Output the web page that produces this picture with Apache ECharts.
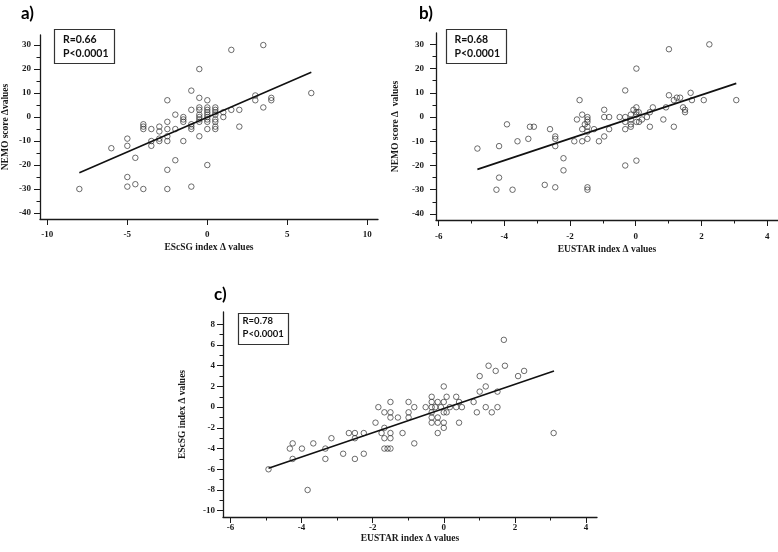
<!DOCTYPE html>
<html>
<head>
<meta charset="utf-8">
<script src="https://cdn.jsdelivr.net/npm/echarts@6/dist/echarts.min.js"></script>
<style>html,body{margin:0;padding:0;background:#fff}#c{width:778px;height:552px}</style>
</head>
<body>
<div id="c"></div>
<script>
// ---------- Panel a: EScSG index Δ (x) vs NEMO score Δ (y) ----------
const aX = [-8,-6,-5,-5,-5,-5,-4.5,-4.5,-4,-4,-4,-4,-3.5,-3.5,-3.5,-3,-3,-3,-3,
  -2.5,-2.5,-2.5,-2.5,-2.5,-2.5,-2.5,-2,-2,-2,-1.5,-1.5,-1.5,-1.5,
  -1,-1,-1,-1,-1,-1,-0.5,-0.5,-0.5,-0.5,-0.5,-0.5,-0.5,-0.5,-0.5,
  0,0,0,0,0,0,0,0,0,0,0.5,0.5,0.5,0.5,0.5,0.5,0.5,0.5,
  1,1,1.5,1.5,2,2,3,3,3.5,3.5,4,4,6.5];
const aY = [-30,-13,-9,-12,-25,-29,-17,-28,-3,-4,-5,-30,-5,-10,-12,-4,-6,-9,-10,
  7,-2,-5,-8,-10,-22,-30,1,-5,-18,0,-1,-2,-10,
  11,3,-3,-4,-5,-29,20,8,4,3,1,0,-1,-2,-8,
  7,4,3,2,1,0,-1,-2,-5,-20,4,3,2,1,-1,-2,-4,-5,
  2,0,28,3,3,-4,9,7,30,4,8,7,10];
const aFitX = [-8, 6.5];
const aFitY = [-23.2, 18.7];

// ---------- Panel b: EUSTAR index Δ (x) vs NEMO score Δ (y) ----------
const bX = [-4.82,-4.24,-4.16,-4.16,-3.92,-3.75,-3.6,-3.27,-3.22,-3.1,-2.77,-2.61,
  -2.45,-2.45,-2.45,-2.45,-2.2,-2.2,-1.87,-1.79,-1.71,-1.63,-1.63,-1.63,-1.55,
  -1.47,-1.47,-1.47,-1.47,-1.47,-1.47,-1.47,-1.47,-1.27,-1.12,-0.96,-0.96,-0.96,
  -0.81,-0.81,-0.49,-0.32,-0.32,-0.32,-0.32,-0.32,-0.15,-0.15,-0.15,-0.15,-0.07,
  0.02,0.02,0.02,0.02,0.02,0.02,0.09,0.1,0.19,0.34,0.43,0.43,0.52,0.84,0.92,
  1.01,1.01,1.16,1.16,1.25,1.35,1.44,1.5,1.5,1.67,1.71,2.07,2.24,3.06];
const bY = [-13,-30,-12,-25,-3,-30,-10,-9,-4,-4,-28,-5,
  -8,-9,-12,-29,-17,-22,-10,-1,7,1,-5,-10,-3,
  0,-1,-2,-4,-6,-9,-29,-30,-5,-10,3,0,-8,
  0,-5,0,11,0,-2,-5,-20,1,-1,-3,-4,3,
  20,4,2,1,-2,-18,2,-2,-1,0,2,-4,4,-1,4,
  28,9,7,-4,8,8,4,3,2,10,7,7,30,7];
const bFitX = [-4.82, 3.06];
const bFitY = [-21.6, 13.9];

// ---------- Panel c: EUSTAR index Δ (x) vs EScSG index Δ (y) ----------
const cX = [-4.93,-4.33,-4.25,-4.25,-3.99,-3.83,-3.67,-3.33,-3.33,-3.16,-2.83,-2.67,
  -2.5,-2.5,-2.5,-2.25,-2.25,-1.92,-1.84,-1.75,-1.67,-1.67,-1.67,-1.67,-1.58,
  -1.5,-1.5,-1.5,-1.5,-1.5,-1.5,-1.29,-1.16,-0.99,-0.99,-0.99,-0.83,-0.83,-0.51,
  -0.34,-0.34,-0.34,-0.34,-0.34,-0.34,-0.24,-0.17,-0.17,-0.17,-0.17,-0.08,
  0,0,0,0,0,0.08,0.08,0.17,0.35,0.35,0.43,0.43,0.51,0.84,0.93,
  1.01,1.01,1.18,1.18,1.26,1.35,1.46,1.51,1.51,1.69,1.72,2.09,2.26,3.09];
const cY = [-6,-4,-3.5,-5,-4,-8,-3.5,-4,-5,-3,-4.5,-2.5,
  -2.5,-3,-5,-2.5,-4.5,-1.5,0,-2.5,-0.5,-2,-3,-4,-4,
  0.5,-0.5,-1,-2.5,-3,-4,-1,-2.5,0.5,-0.5,-1,0,-3.5,0,
  1,0.5,0,-0.5,-1,-1.5,0,0.5,-1,-1.5,-2.5,0,
  2,0.5,-0.5,-1.5,-2,1,-0.5,0,1,0,0.5,-1.5,0,0.5,-0.5,
  3,1.5,2,0,4,-0.5,3.5,1.5,0,6.5,4,3,3.5,-2.5];
const cFitX = [-4.93, 3.1];
const cFitY = [-5.9, 3.5];

// ---------- tick values ----------
const aXTicks = [-10,-5,0,5,10];
const aYTicks = [-40,-30,-20,-10,0,10,20,30];
const aYMinor = [-35,-25,-15,-5,5,15,25];
const bXTicks = [-6,-4,-2,0,2,4];
const bXMinor = [-5,-3,-1,1,3];
const bYTicks = [-40,-30,-20,-10,0,10,20,30];
const bYMinor = [-35,-25,-15,-5,5,15,25];
const cXTicks = [-6,-4,-2,0,2,4];
const cXMinor = [-5,-3,-1,1,3];
const cYTicks = [-10,-8,-6,-4,-2,0,2,4,6,8];
const cYMinor = [-9,-7,-5,-3,-1,1,3,5,7];

const zip = (xs, ys) => xs.map((x, i) => [x, ys[i]]);

const INK = '#1a1a1a';
const labelFont = {fontFamily: 'Liberation Serif', fontWeight: 'bold', fontSize: 9, color: INK};

const panels = [
  {grid: {left: 40, top: 35, width: 338, height: 184},
   xr: [-10.46, 10.67], yr: [-42.5, 34.2],
   xt: aXTicks, xm: [], yt: aYTicks, ym: aYMinor,
   xName: 'EScSG index Δ values', yName: 'NEMO score Δvalues',
   xGap: 24, yGap: 29, xMargin: 11, yMargin: 9,
   pts: zip(aX, aY), fit: zip(aFitX, aFitY)},
  {grid: {left: 436, top: 33, width: 342, height: 187},
   xr: [-6.08, 4.33], yr: [-42.5, 34.7],
   xt: bXTicks, xm: bXMinor, yt: bYTicks, ym: bYMinor,
   xName: 'EUSTAR index Δ values', yName: 'NEMO score Δ  values',
   xGap: 25, yGap: 35, xMargin: 12, yMargin: 12,
   pts: zip(bX, bY), fit: zip(bFitX, bFitY)},
  {grid: {left: 223, top: 312, width: 374, height: 205},
   xr: [-6.21, 4.31], yr: [-10.61, 9.19],
   xt: cXTicks, xm: cXMinor, yt: cYTicks, ym: cYMinor,
   xName: 'EUSTAR index Δ values', yName: 'EScSG index Δ values',
   xGap: 17, yGap: 35, xMargin: 6, yMargin: 8,
   pts: zip(cX, cY), fit: zip(cFitX, cFitY)}
];

const grid = [], xAxis = [], yAxis = [], series = [];
panels.forEach((p, gi) => {
  grid.push(Object.assign({outerBoundsMode: 'none', containLabel: false}, p.grid));
  const xi = xAxis.length, yi = yAxis.length;
  xAxis.push({
    type: 'value', gridIndex: gi, min: p.xr[0], max: p.xr[1],
    splitLine: {show: false},
    axisLine: {onZero: false, lineStyle: {color: INK, width: 1.3}},
    axisTick: {customValues: p.xt, length: 6, lineStyle: {color: INK, width: 1}},
    axisLabel: Object.assign({customValues: p.xt, margin: p.xMargin}, labelFont),
    name: p.xName, nameLocation: 'middle', nameGap: p.xGap,
    nameTextStyle: {fontFamily: 'Liberation Serif', fontWeight: 'bold', fontSize: 9.5, color: INK}
  });
  yAxis.push({
    type: 'value', gridIndex: gi, min: p.yr[0], max: p.yr[1], position: 'left',
    splitLine: {show: false},
    axisLine: {onZero: false, lineStyle: {color: INK, width: 1.3}},
    axisTick: {customValues: p.yt, length: 6, lineStyle: {color: INK, width: 1}},
    axisLabel: Object.assign({customValues: p.yt, margin: p.yMargin}, labelFont),
    name: p.yName, nameLocation: 'middle', nameGap: p.yGap,
    nameTextStyle: {fontFamily: 'Liberation Serif', fontWeight: 'bold', fontSize: 9.5, color: INK}
  });
  if (p.xm.length) {
    xAxis.push({
      type: 'value', gridIndex: gi, min: p.xr[0], max: p.xr[1], position: 'bottom',
      splitLine: {show: false}, axisLine: {show: false, onZero: false},
      axisTick: {customValues: p.xm, length: 3.5, lineStyle: {color: INK, width: 1}},
      axisLabel: {show: false}
    });
  }
  if (p.ym.length) {
    yAxis.push({
      type: 'value', gridIndex: gi, min: p.yr[0], max: p.yr[1], position: 'left', offset: 0,
      splitLine: {show: false}, axisLine: {show: false, onZero: false},
      axisTick: {customValues: p.ym, length: 3.5, lineStyle: {color: INK, width: 1}},
      axisLabel: {show: false}
    });
  }
  series.push({
    type: 'scatter', xAxisIndex: xi, yAxisIndex: yi, data: p.pts,
    symbol: 'circle', symbolSize: 5.5,
    itemStyle: {color: 'rgba(0,0,0,0)', borderColor: '#333', borderWidth: 0.9}
  });
  series.push({
    type: 'line', xAxisIndex: xi, yAxisIndex: yi, data: p.fit,
    symbol: 'none', lineStyle: {color: '#111', width: 1.6}
  });
});

const panelTitle = {fontFamily: 'Lato', fontWeight: 'bold', fontSize: 17, color: '#000'};
function statBox(x, y, w, h, tx, l1, l2, t1, t2, fs) {
  const font = 'bold ' + fs + 'px Lato';
  return [
    {type: 'rect', shape: {x: x, y: y, width: w, height: h},
     style: {fill: 'rgba(0,0,0,0)', stroke: '#333', lineWidth: 1.2}, z: 10},
    {type: 'text', x: tx, y: t1, style: {text: l1, font: font, fill: '#111', verticalAlign: 'middle'}, z: 11},
    {type: 'text', x: tx, y: t2, style: {text: l2, font: font, fill: '#111', verticalAlign: 'middle'}, z: 11}
  ];
}

const chart = echarts.init(document.getElementById('c'), null, {renderer: 'canvas'});
chart.setOption({
  animation: false,
  backgroundColor: '#fff',
  title: [
    {text: 'a)', left: 16, top: 0, textStyle: panelTitle},
    {text: 'b)', left: 414, top: 0, textStyle: panelTitle},
    {text: 'c)', left: 209, top: 281, textStyle: panelTitle}
  ],
  grid: grid, xAxis: xAxis, yAxis: yAxis, series: series,
  graphic: [].concat(
    statBox(54.5, 29.5, 60, 34, 63, 'R=0.66', 'P<0.0001', 40, 53.3, 10.5),
    statBox(446.5, 29.5, 60, 34, 454.5, 'R=0.68', 'P<0.0001', 40, 53.3, 10.5),
    statBox(238.5, 313.5, 50, 31, 242.5, 'R=0.78', 'P<0.0001', 320.5, 333.5, 9.5)
  )
});
</script>
</body>
</html>
